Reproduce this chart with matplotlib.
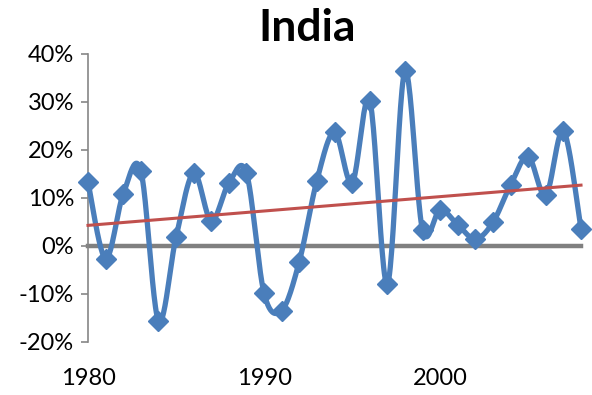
import numpy as np
import matplotlib
matplotlib.use("Agg")
import matplotlib.pyplot as plt
from matplotlib.ticker import FuncFormatter

# Annual growth, India (fraction)
years = list(range(1980, 2009))
growth = [0.133, -0.027, 0.108, 0.157, -0.156, 0.018, 0.152, 0.052, 0.131, 0.152,
          -0.099, -0.135, -0.033, 0.136, 0.237, 0.131, 0.303, -0.080, 0.364, 0.033,
          0.075, 0.044, 0.014, 0.049, 0.127, 0.186, 0.105, 0.240, 0.035]
x_ticks = [1980, 1990, 2000]
y_ticks = [-0.2, -0.1, 0.0, 0.1, 0.2, 0.3, 0.4]

BLUE = "#4A7EBB"
RED = "#C0504D"
GRAY = "#808080"


def smooth(xs, ys, n=24):
    """Catmull-Rom style smoothing through every point."""
    xs = np.asarray(xs, float)
    ys = np.asarray(ys, float)
    px = np.concatenate([[xs[0]], xs, [xs[-1]]])
    py = np.concatenate([[ys[0]], ys, [ys[-1]]])
    ox, oy = [], []
    for i in range(1, len(px) - 2):
        p0, p1, p2, p3 = (np.array([px[j], py[j]]) for j in (i - 1, i, i + 1, i + 2))
        c1 = p1 + (p2 - p0) / 6.0
        c2 = p2 - (p3 - p1) / 6.0
        t = np.linspace(0, 1, n, endpoint=(i == len(px) - 3))[:, None]
        pts = ((1 - t) ** 3) * p1 + 3 * ((1 - t) ** 2) * t * c1 + 3 * (1 - t) * t ** 2 * c2 + t ** 3 * p2
        ox.extend(pts[:, 0])
        oy.extend(pts[:, 1])
    return np.array(ox), np.array(oy)


plt.rcParams["font.family"] = ["Lato", "DejaVu Sans"]

fig = plt.figure(figsize=(5.92, 3.95), dpi=100)
ax = fig.add_axes([88 / 592, 1 - 341.7 / 395, (581 - 88) / 592, (341.7 - 54) / 395])

ax.set_xlim(1980, 2008)
ax.set_ylim(-0.2, 0.4)

# zero line
ax.axhline(0, color=GRAY, lw=3.2, zorder=1, clip_on=False)

# series
sx, sy = smooth(years, growth)
ax.plot(sx, sy, color=BLUE, lw=3.8, zorder=3, clip_on=False, solid_capstyle="round")
ax.plot(years, growth, linestyle="none", marker="D", markersize=10.5,
        color=BLUE, zorder=4, clip_on=False)

# linear trend
coef = np.polyfit(years, growth, 1)
tx = np.array([years[0], years[-1]])
ax.plot(tx, np.polyval(coef, tx), color=RED, lw=2.2, zorder=5, clip_on=False)

for s in ("top", "right", "bottom"):
    ax.spines[s].set_visible(False)
ax.spines["left"].set_color("#868686")
ax.spines["left"].set_linewidth(1.2)

ax.set_yticks(y_ticks)
ax.yaxis.set_major_formatter(FuncFormatter(lambda v, p: f"{v * 100:.0f}%"))
ax.tick_params(axis="y", colors="#868686", length=5, width=1.2, labelsize=17,
               labelcolor="black", pad=5)
ax.set_xticks(x_ticks)
ax.set_xticklabels([str(v) for v in x_ticks])
ax.tick_params(axis="x", length=0, labelsize=17, labelcolor="black", pad=19)

fig.text(307 / 592, 1 - 28 / 395, "India", ha="center", va="center",
         fontsize=32, fontweight="bold")

fig.savefig("out.png", dpi=100)
